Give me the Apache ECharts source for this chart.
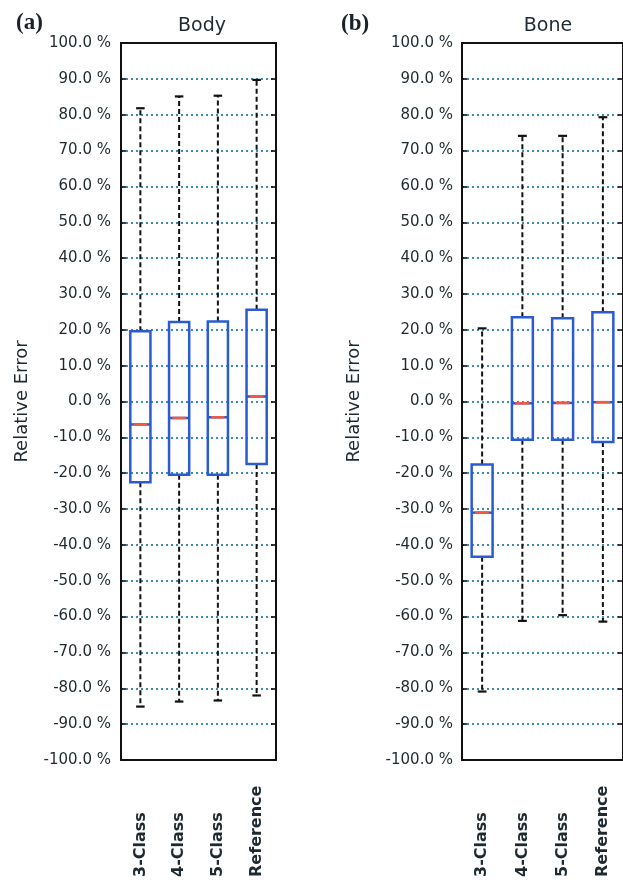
<!DOCTYPE html>
<html>
<head>
<meta charset="utf-8">
<script src="https://cdn.jsdelivr.net/npm/echarts@6/dist/echarts.min.js"></script>
<style>
html,body{margin:0;padding:0;background:#fff;overflow:hidden;}
#chart{width:623px;height:880px;}
</style>
</head>
<body>
<div id="chart"></div>
<script>
// ---- data ----
const categories = ['3-Class', '4-Class', '5-Class', 'Reference'];
const yTicks = [-100, -90, -80, -70, -60, -50, -40, -30, -20, -10, 0, 10, 20, 30, 40, 50, 60, 70, 80, 90, 100];

const bodyMin    = [-85.1, -83.7, -83.4, -82.0];
const bodyQ1     = [-22.5, -20.4, -20.4, -17.4];
const bodyMedian = [-6.4, -4.6, -4.4, 1.4];
const bodyQ3     = [19.6, 22.2, 22.3, 25.6];
const bodyMax    = [81.8, 85.1, 85.3, 89.7];

const boneMin    = [-80.9, -61.2, -59.6, -61.4];
const boneQ1     = [-43.3, -10.7, -10.7, -11.3];
const boneMedian = [-31.0, -0.5, -0.4, -0.2];
const boneQ3     = [-17.6, 23.5, 23.2, 24.9];
const boneMax    = [20.4, 74.1, 74.1, 79.3];

function rows(mn, q1, md, q3, mx) {
  return categories.map((c, i) => [i, mn[i], q1[i], md[i], q3[i], mx[i]]);
}

const TXT = '#1e2a30';
const FONT = 'DejaVu Sans';
const BORDER = {show: true, onZero: false, lineStyle: {color: '#111', width: 2}};

function renderBox(params, api) {
  const x = api.value(0);
  const pMin = api.coord([x, api.value(1)]);
  const pQ1 = api.coord([x, api.value(2)]);
  const pMd = api.coord([x, api.value(3)]);
  const pQ3 = api.coord([x, api.value(4)]);
  const pMax = api.coord([x, api.value(5)]);
  const band = api.size([1, 0])[0];
  const bw = band * 0.52;
  const cw = band * 0.22;
  const cx = pMd[0];
  const dash = {stroke: '#111', lineWidth: 2, lineDash: [5, 3]};
  const cap = {stroke: '#111', lineWidth: 2.2};
  return {
    type: 'group',
    children: [
      {type: 'line', shape: {x1: cx, y1: pQ3[1], x2: cx, y2: pMax[1]}, style: dash},
      {type: 'line', shape: {x1: cx, y1: pQ1[1], x2: cx, y2: pMin[1]}, style: dash},
      {type: 'line', shape: {x1: cx - cw / 2, y1: pMax[1], x2: cx + cw / 2, y2: pMax[1]}, style: cap},
      {type: 'line', shape: {x1: cx - cw / 2, y1: pMin[1], x2: cx + cw / 2, y2: pMin[1]}, style: cap},
      {type: 'rect', shape: {x: cx - bw / 2, y: pQ3[1], width: bw, height: pQ1[1] - pQ3[1]},
        style: {fill: 'rgba(255,255,255,0)', stroke: '#2a5bd4', lineWidth: 2.5}},
      {type: 'line', shape: {x1: cx - bw / 2, y1: pMd[1], x2: cx + bw / 2, y2: pMd[1]},
        style: {stroke: '#2a5bd4', lineWidth: 2.5}},
      {type: 'line', shape: {x1: cx - bw * 0.33, y1: pMd[1], x2: cx + bw * 0.33, y2: pMd[1]},
        style: {stroke: '#f05a44', lineWidth: 2.6}}
    ]
  };
}

function xAxisFor(g) {
  return {
    type: 'category', gridIndex: g, data: categories, position: 'bottom',
    axisLine: BORDER, axisTick: {show: false}, splitLine: {show: false},
    axisLabel: {
      rotate: 90, align: 'left', verticalAlign: 'middle', margin: 117, interval: 0,
      fontFamily: FONT, fontWeight: 'bold', fontSize: 16, color: TXT
    }
  };
}
function xAxisTop(g) {
  return {
    type: 'category', gridIndex: g, data: categories, position: 'top',
    axisLine: BORDER, axisTick: {show: false}, axisLabel: {show: false}, splitLine: {show: false}
  };
}
function yAxisFor(g, labelMargin, nameGap) {
  return {
    type: 'value', gridIndex: g, min: yTicks[0], max: yTicks[yTicks.length - 1], interval: 10,
    position: 'left',
    name: 'Relative Error', nameLocation: 'middle', nameGap: nameGap,
    nameTextStyle: {fontFamily: FONT, fontSize: 18, color: TXT},
    axisLine: BORDER,
    axisTick: {show: true, inside: true, length: 5, lineStyle: {color: '#111', width: 1.6}},
    axisLabel: {margin: labelMargin, fontFamily: FONT, fontSize: 15, color: TXT,
      formatter: v => v.toFixed(1) + ' %'},
    splitLine: {show: true, lineStyle: {color: '#3a8cb4', width: 2, type: [2, 3]}}
  };
}
function yAxisRight(g) {
  return {
    type: 'value', gridIndex: g, min: yTicks[0], max: yTicks[yTicks.length - 1], interval: 10,
    position: 'right',
    axisLine: BORDER,
    axisTick: {show: true, inside: true, length: 5, lineStyle: {color: '#111', width: 1.6}},
    axisLabel: {show: false}, splitLine: {show: false}
  };
}

const chart = echarts.init(document.getElementById('chart'), null, {renderer: 'canvas'});
chart.setOption({
  backgroundColor: '#fff',
  animation: false,
  title: [
    {text: 'Body', left: 197, top: 12, textAlign: 'center',
      textStyle: {fontFamily: FONT, fontWeight: 'normal', fontSize: 19, color: TXT}},
    {text: 'Bone', left: 543, top: 12, textAlign: 'center',
      textStyle: {fontFamily: FONT, fontWeight: 'normal', fontSize: 19, color: TXT}},
    {text: '(a)', left: 11, top: 7,
      textStyle: {fontFamily: 'Liberation Serif', fontWeight: 'bold', fontSize: 23, color: '#1a2228'}},
    {text: '(b)', left: 336, top: 8,
      textStyle: {fontFamily: 'Liberation Serif', fontWeight: 'bold', fontSize: 23, color: '#1a2228'}}
  ],
  grid: [
    {left: 121, top: 43, width: 155, height: 719, show: false},
    {left: 462, top: 43, width: 163, height: 719, show: false}
  ],
  xAxis: [xAxisFor(0), xAxisTop(0), xAxisFor(1), xAxisTop(1)],
  yAxis: [yAxisFor(0, 10, 90), yAxisRight(0), yAxisFor(1, 9, 99), yAxisRight(1)],
  series: [
    {type: 'custom', name: 'Body', xAxisIndex: 0, yAxisIndex: 0, renderItem: renderBox,
      data: rows(bodyMin, bodyQ1, bodyMedian, bodyQ3, bodyMax), z: 5},
    {type: 'custom', name: 'Bone', xAxisIndex: 2, yAxisIndex: 2, renderItem: renderBox,
      data: rows(boneMin, boneQ1, boneMedian, boneQ3, boneMax), z: 5}
  ]
});
</script>
</body>
</html>
